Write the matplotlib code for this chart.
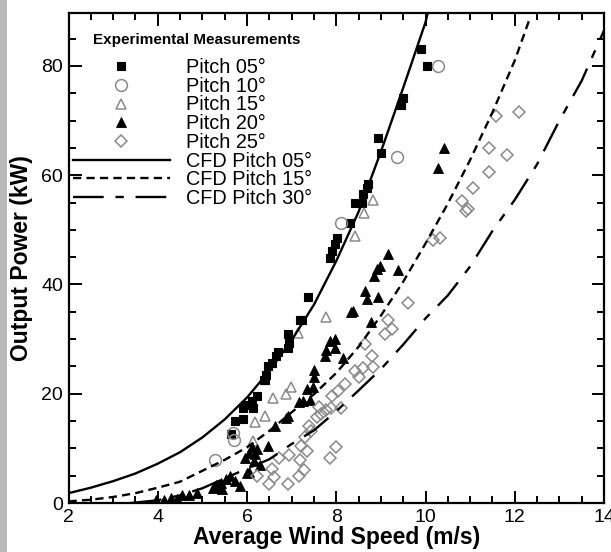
import matplotlib
matplotlib.use('Agg')
import matplotlib.pyplot as plt
from matplotlib.patches import Rectangle
from matplotlib.ticker import MultipleLocator

plt.rcParams['font.family'] = ['Liberation Sans', 'DejaVu Sans']

# ---------------- data ----------------
p05_x = [9.89, 10.04, 9.50, 9.44, 8.93, 9.00, 8.72, 8.68, 8.59, 8.41, 8.30, 8.01, 7.97, 7.91,
         7.87, 7.37, 7.19, 6.91, 6.93, 6.91, 6.70, 6.65, 6.57, 6.48, 6.43, 6.37, 6.22, 6.11,
         5.96, 5.92, 6.13, 5.73, 5.90, 5.65, 8.57, 7.23, 6.41]
p05_y = [83.1, 80.0, 74.1, 72.9, 66.9, 64.0, 58.4, 57.7, 56.6, 54.9, 51.2, 48.5, 47.5, 46.2,
         44.9, 37.7, 33.5, 30.9, 29.3, 28.3, 27.7, 27.0, 25.7, 25.1, 23.5, 22.5, 19.6, 18.6,
         18.0, 17.4, 17.3, 15.1, 15.4, 12.7, 54.9, 33.5, 22.5]

p10_x = [10.27, 9.36, 8.10, 5.68, 5.70, 5.28]
p10_y = [80.0, 63.4, 51.2, 12.8, 11.5, 7.9]

p15_x = [8.82, 8.63, 8.42, 7.78, 7.14, 6.99, 6.87, 6.58, 6.41, 6.17, 6.13]
p15_y = [55.4, 53.0, 48.8, 34.0, 31.2, 21.3, 19.9, 19.2, 16.0, 14.8, 11.3]

p20_x = [10.42, 10.28, 9.15, 8.99, 8.91, 8.85, 9.38, 8.64, 8.70, 8.93, 8.78, 8.37, 8.32,
         7.97, 7.87, 7.97, 7.78, 7.74, 8.15, 7.51, 7.50, 7.47, 7.35, 7.42, 7.26, 7.16,
         6.91, 6.87, 6.63, 6.46, 6.22, 6.17, 6.04, 6.15, 5.96, 6.04, 5.85, 5.74, 5.63,
         5.52, 5.42, 5.35, 5.24, 5.30, 4.87, 4.70, 4.54, 4.43, 4.30, 4.13, 3.96, 6.12,
         5.99, 6.30, 5.45]
p20_y = [64.9, 61.4, 45.6, 43.4, 42.8, 41.6, 42.6, 38.8, 37.4, 37.8, 33.1, 35.1, 34.9,
         30.1, 29.7, 28.3, 28.0, 26.9, 26.5, 24.3, 23.1, 21.2, 20.9, 18.9, 18.6, 18.4,
         16.0, 15.5, 14.1, 10.5, 9.9, 8.9, 9.2, 7.6, 8.3, 5.7, 3.2, 4.1, 5.0,
         4.4, 3.7, 3.0, 2.8, 3.3, 1.8, 1.5, 1.5, 0.8, 1.0, 0.6, 0.5, 10.3,
         5.5, 7.0, 2.5]

p25_x = [12.09, 11.59, 11.42, 11.83, 11.42, 11.07, 10.81, 10.96, 10.90, 10.32, 10.17, 9.61,
         9.15, 9.24, 9.09, 8.65, 8.81, 8.83, 8.61, 8.41, 8.52, 8.19, 8.04, 7.91, 7.61, 7.77,
         7.89, 7.65, 7.57, 7.39, 7.43, 7.30, 8.11, 7.22, 7.35, 7.19, 7.28, 7.17, 6.93, 6.91,
         6.71, 6.57, 6.61, 6.50, 6.22, 8.00, 7.87]
p25_y = [71.6, 70.8, 65.0, 63.7, 60.6, 57.6, 55.3, 53.8, 53.4, 48.6, 48.1, 36.7,
         33.5, 31.9, 31.0, 29.1, 27.0, 24.9, 24.7, 24.2, 23.1, 21.8, 20.5, 19.6, 17.6, 17.0,
         17.3, 16.3, 15.7, 14.1, 13.1, 12.1, 17.3, 10.5, 9.6, 7.9, 6.0, 5.0, 8.8, 3.4,
         8.3, 6.3, 4.7, 3.4, 5.0, 10.3, 8.3]

cfd05_x = [2.0, 2.5, 3.0, 3.5, 4.0, 4.5, 5.0, 5.5, 6.0, 6.5, 7.0, 7.5, 8.0, 8.5, 9.0, 9.5, 10.0, 10.05]
cfd05_y = [1.8, 2.8, 4.0, 5.4, 7.2, 9.3, 12.0, 15.3, 19.3, 24.2, 29.8, 36.3, 44.3, 53.3, 64.3, 76.0, 88.0, 89.7]

cfd15_x = [2.0, 2.5, 3.0, 3.5, 4.0, 4.5, 5.0, 5.5, 6.0, 6.5, 7.0, 7.5, 8.0, 8.5, 9.0, 9.5,
           10.0, 10.5, 11.0, 11.5, 12.0, 12.35]
cfd15_y = [0.3, 0.6, 1.1, 1.8, 2.8, 3.9, 5.9, 7.9, 10.2, 13.2, 16.6, 19.9, 23.8, 28.6, 34.3, 40.5,
           47.5, 54.8, 62.8, 71.5, 81.0, 89.0]

cfd30_x = [3.4, 4.0, 4.5, 5.0, 5.5, 6.0, 6.5, 7.0, 7.5, 8.0, 8.5, 9.0, 9.5, 10.0, 10.5,
           11.0, 11.5, 12.0, 12.5, 13.0, 13.5, 14.0]
cfd30_y = [0.0, 0.5, 1.4, 2.7, 4.5, 6.3, 8.0, 10.8, 13.3, 16.8, 20.6, 24.5, 29.0, 33.8, 38.0,
           43.3, 49.8, 55.5, 62.0, 70.0, 77.3, 86.5]

labels = ['Pitch 05°', 'Pitch 10°', 'Pitch 15°', 'Pitch 20°', 'Pitch 25°',
          'CFD Pitch 05°', 'CFD Pitch 15°', 'CFD Pitch 30°']

xlabel = 'Average Wind Speed (m/s)'
ylabel = 'Output Power (kW)'
legend_title = 'Experimental Measurements'

# ---------------- figure ----------------
W, H = 611, 552
fig = plt.figure(figsize=(W / 100, H / 100), dpi=100)
fig.patch.set_facecolor('white')
fig.patches.append(Rectangle((0, 0), 7 / W, 1, transform=fig.transFigure,
                             facecolor='#b9b9b9', edgecolor='none', zorder=0))

ax = fig.add_axes([68.5 / W, 1 - 503 / H, (604 - 68.5) / W, (503 - 13) / H])

gray = '#8a8a8a'
h1, = ax.plot(p05_x, p05_y, ls='none', marker='s', ms=6, mfc='black', mec='black', mew=0.8)
h2, = ax.plot(p10_x, p10_y, ls='none', marker='o', ms=8.5, mfc='none', mec=gray, mew=1.1)
h3, = ax.plot(p15_x, p15_y, ls='none', marker='^', ms=7.5, mfc='none', mec=gray, mew=1.1)
h4, = ax.plot(p20_x, p20_y, ls='none', marker='^', ms=6.5, mfc='black', mec='black', mew=0.6)
h5, = ax.plot(p25_x, p25_y, ls='none', marker='D', ms=6.5, mfc='none', mec=gray, mew=1.1)

lw = 1.7
h6, = ax.plot(cfd05_x, cfd05_y, color='black', lw=lw, ls='-')
h7, = ax.plot(cfd15_x, cfd15_y, color='black', lw=lw, ls=(0, (3.5, 2.2)))
h8, = ax.plot(cfd30_x, cfd30_y, color='black', lw=lw, ls=(0, (13, 5, 3.5, 5)))

ax.set_xlim(2, 14)
ax.set_ylim(0, 89.7)
ax.xaxis.set_major_locator(MultipleLocator(2))
ax.xaxis.set_minor_locator(MultipleLocator(0.5))
ax.yaxis.set_major_locator(MultipleLocator(20))
ax.yaxis.set_minor_locator(MultipleLocator(5))
ax.tick_params(which='both', direction='in', top=True, right=True, width=1.4, labelsize=14)
ax.tick_params(which='major', length=9, pad=4)
ax.tick_params(which='minor', length=5)
for s in ax.spines.values():
    s.set_linewidth(1.6)

ax.set_xlabel(xlabel, fontsize=16.5, fontweight='bold', labelpad=0)
ax.set_ylabel(ylabel, fontsize=16.5, fontweight='bold', labelpad=6)

leg = ax.legend([h1, h2, h3, h4, h5, h6, h7, h8], labels, loc='upper left',
                bbox_to_anchor=(0.008, 0.908), frameon=False, fontsize=14.3,
                handlelength=4.9, handletextpad=0.8, labelspacing=-0.015,
                borderaxespad=0, borderpad=0, numpoints=1)
ax.text(0.24, 0.945, legend_title, transform=ax.transAxes, ha='center', va='center',
        fontsize=11, fontweight='bold')

fig.savefig('out.png', dpi=100)
